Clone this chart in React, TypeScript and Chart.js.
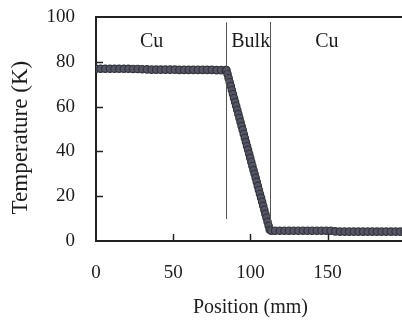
import React, { useEffect, useRef } from "react";
import { Chart, registerables } from "chart.js";
Chart.register(...registerables);

// ---- data ----
const cuLeftPos = [0, 3, 6, 9, 12, 15, 18, 21, 24, 27, 30, 33, 36, 39, 42, 45, 48, 51, 54, 57, 60, 63, 66, 69, 72, 75, 78, 81, 84];
const cuLeftTemp = [76.9, 76.9, 76.9, 76.9, 76.9, 76.9, 76.9, 76.9, 76.8, 76.8, 76.7, 76.6, 76.5, 76.5, 76.5, 76.5, 76.5, 76.5, 76.4, 76.4, 76.4, 76.4, 76.4, 76.4, 76.4, 76.4, 76.3, 76.3, 76.3];

const bulkPos = [84.5, 85.2, 85.9, 86.6, 87.3, 88.0, 88.7, 89.4, 90.1, 90.8, 91.5, 92.2, 92.9, 93.6, 94.3, 95.0, 95.7, 96.4, 97.1, 97.8, 98.5, 99.2, 99.9, 100.6, 101.3, 102.0, 102.7, 103.4, 104.1, 104.8, 105.5, 106.2, 106.9, 107.6, 108.3, 109.0, 109.7, 110.4, 111.1, 111.8, 112.5];
const bulkTemp = [76.3, 74.5, 72.7, 70.9, 69.2, 67.4, 65.6, 63.8, 62.0, 60.3, 58.5, 56.7, 54.9, 53.1, 51.3, 49.6, 47.8, 46.0, 44.2, 42.4, 40.7, 38.9, 37.1, 35.3, 33.5, 31.7, 30.0, 28.2, 26.4, 24.6, 22.8, 21.0, 19.3, 17.5, 15.7, 13.9, 12.1, 10.4, 8.6, 6.8, 5.0];

const cuRightPos = [113.5, 116, 119, 122, 125, 128, 131, 134, 137, 140, 143, 146, 149, 152, 155, 158, 161, 164, 167, 170, 173, 176, 179, 182, 185, 188, 191, 194, 197, 200];
const cuRightTemp = [4.6, 4.6, 4.6, 4.6, 4.6, 4.6, 4.6, 4.6, 4.6, 4.6, 4.6, 4.6, 4.6, 4.6, 4.3, 4.2, 4.2, 4.2, 4.2, 4.2, 4.2, 4.2, 4.2, 4.2, 4.2, 4.2, 4.2, 4.2, 4.2, 4.2];

const xTickValues = [0, 50, 100, 150];
const yTickValues = [0, 20, 40, 60, 80, 100];

const regionLabels = ["Cu", "Bulk", "Cu"];
const regionLabelX = [36, 100.2, 149.5];
const regionLabelY = [88.8, 88.8, 88.8];

const dividerX = [84.3, 112.4];
const dividerTop = [97.6, 97.8];
const dividerBottom = [9.8, 5.8];

const FONT = "'Liberation Serif', 'Times New Roman', serif";
const TEXT = "#1c1c1c";
const AXIS = "#222222";

export default function App() {
  const ref = useRef<HTMLCanvasElement>(null);

  useEffect(() => {
    const positions = [...cuLeftPos, ...bulkPos, ...cuRightPos];
    const temps = [...cuLeftTemp, ...bulkTemp, ...cuRightTemp];
    const points = positions.map((x, i) => ({ x, y: temps[i] }));

    const framePlugin = {
      id: "frame",
      afterDatasetsDraw(chart: any) {
        const { ctx, chartArea, scales } = chart;
        const xs = scales.x;
        const ys = scales.y;
        ctx.save();
        // top border
        ctx.strokeStyle = AXIS;
        ctx.lineWidth = 2;
        ctx.beginPath();
        ctx.moveTo(chartArea.left - 1, chartArea.top);
        ctx.lineTo(chartArea.right, chartArea.top);
        ctx.stroke();
        // inward ticks
        ctx.lineWidth = 1.5;
        xTickValues.forEach((v) => {
          if (v === 0) return;
          const px = Math.round(xs.getPixelForValue(v)) + 0.5;
          ctx.beginPath();
          ctx.moveTo(px, chartArea.bottom);
          ctx.lineTo(px, chartArea.bottom - 7);
          ctx.stroke();
        });
        yTickValues.forEach((v) => {
          if (v === 0 || v === 100) return;
          const py = Math.round(ys.getPixelForValue(v)) + 0.5;
          ctx.beginPath();
          ctx.moveTo(chartArea.left, py);
          ctx.lineTo(chartArea.left + 7, py);
          ctx.stroke();
        });
        // divider lines
        ctx.strokeStyle = "#555555";
        ctx.lineWidth = 1;
        dividerX.forEach((v, i) => {
          const px = Math.round(xs.getPixelForValue(v)) + 0.5;
          ctx.beginPath();
          ctx.moveTo(px, ys.getPixelForValue(dividerTop[i]));
          ctx.lineTo(px, ys.getPixelForValue(dividerBottom[i]));
          ctx.stroke();
        });
        // region labels
        ctx.fillStyle = TEXT;
        ctx.font = `20px ${FONT}`;
        ctx.textAlign = "center";
        ctx.textBaseline = "middle";
        regionLabels.forEach((t, i) => {
          ctx.fillText(t, xs.getPixelForValue(regionLabelX[i]), ys.getPixelForValue(regionLabelY[i]));
        });
        ctx.restore();
      },
    };

    const chart = new Chart(ref.current as HTMLCanvasElement, {
      type: "line",
      data: {
        datasets: [
          {
            data: points,
            borderColor: "#4a4b58",
            backgroundColor: "#4a4b58",
            borderWidth: 3,
            pointRadius: 3.7,
            pointBorderWidth: 1.2,
            pointBorderColor: "#33343e",
            pointBackgroundColor: "#555665",
            tension: 0,
          },
        ],
      },
      options: {
        responsive: false,
        animation: false,
        devicePixelRatio: 1,
        layout: { padding: { top: 17, left: 0, right: 0, bottom: 0 } },
        plugins: { legend: { display: false }, tooltip: { enabled: false } },
        scales: {
          x: {
            type: "linear",
            min: 0,
            max: 200,
            afterBuildTicks: (s: any) => {
              s.ticks = xTickValues.map((v) => ({ value: v }));
            },
            afterFit: (s: any) => {
              s.height = 79;
              s.paddingLeft = 0;
              s.paddingRight = 0;
            },
            grid: { display: true, drawOnChartArea: false, drawTicks: false },
            border: { display: true, color: AXIS, width: 2 },
            ticks: { padding: 21, color: TEXT, font: { family: FONT, size: 19 }, maxRotation: 0 },
            title: {
              display: true,
              text: "Position (mm)",
              color: TEXT,
              font: { family: FONT, size: 20 },
              padding: { top: 0, bottom: 0 },
            },
          },
          y: {
            type: "linear",
            min: 0,
            max: 100,
            afterBuildTicks: (s: any) => {
              s.ticks = yTickValues.map((v) => ({ value: v }));
            },
            afterFit: (s: any) => {
              s.width = 96;
              s.paddingTop = 0;
              s.paddingBottom = 0;
            },
            grid: { display: true, drawOnChartArea: false, drawTicks: false },
            border: { display: true, color: AXIS, width: 2 },
            ticks: { padding: 21, color: TEXT, font: { family: FONT, size: 19 } },
            title: {
              display: true,
              text: "Temperature (K)   ",
              color: TEXT,
              font: { family: FONT, size: 23 },
              padding: { top: 7, bottom: 0 },
            },
          },
        },
      },
      plugins: [framePlugin],
    });
    return () => chart.destroy();
  }, []);

  return (
    <div style={{ position: "absolute", left: 0, top: 0, width: 402, height: 320, overflow: "hidden", background: "#fff" }}>
      <canvas ref={ref} width={410} height={320} style={{ width: 410, height: 320, display: "block" }} />
    </div>
  );
}
